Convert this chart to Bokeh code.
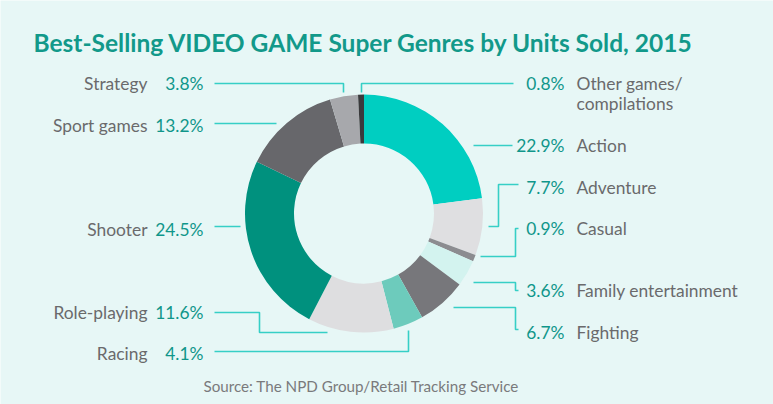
import math
from bokeh.plotting import figure
from bokeh.models import Range1d, ColumnDataSource
from bokeh.core.properties import value
from bokeh.embed import file_html
from bokeh.resources import INLINE

# ---- data ----
categories = ["Action", "Adventure", "Casual", "Family entertainment", "Fighting",
              "Racing", "Role-playing", "Shooter", "Sport games", "Strategy",
              "Other games/compilations"]
shares = [22.9, 7.7, 0.9, 3.6, 6.7, 4.1, 11.6, 24.5, 13.2, 3.8, 0.8]
pct_labels = ["22.9%", "7.7%", "0.9%", "3.6%", "6.7%", "4.1%", "11.6%", "24.5%",
              "13.2%", "3.8%", "0.8%"]

# ---- styles ----
colors = ["#00CEC1", "#DFDFE1", "#8C8C90", "#D3F3EF", "#77777B", "#6DCBBC",
          "#DEDEE0", "#00917E", "#67676B", "#A7A8AC", "#3A3A3C"]
BG = "#E7F7F6"
LINE = "#36CFC6"
NAME_C = "#6A6A6C"
PCT_C = "#10968A"
FONT = "Lato"
LBL_SIZE = "17.4px"

W, H = 773, 404
IMG_H = 404


def fy(y):
    # image row -> data y
    return IMG_H - y


# layout (image pixel coordinates)
CX, CY = 363.5, 213
R_OUT, R_IN = 119, 70
side = ["r", "r", "r", "r", "r", "l", "l", "l", "l", "l", "r"]
label_y = [145, 187, 228, 290, 332, 353, 312, 229, 125, 83, 83]
leaders = [
    [(473, 145), (512, 145)],
    [(518, 184), (498, 184), (498, 226), (488, 226)],
    [(518, 228), (515, 228), (515, 256), (480, 256)],
    [(473, 282), (515, 282), (515, 290), (518, 290)],
    [(453, 307), (515, 307), (515, 329), (518, 329)],
    [(214, 351), (408, 351), (408, 330)],
    [(214, 312), (259, 312), (259, 332), (327, 332)],
    [(214, 226), (240, 226)],
    [(214, 123), (276, 123)],
    [(214, 83), (343, 83), (343, 92)],
    [(361, 92), (361, 83), (513, 83)],
]

p = figure(width=W, height=H, output_backend="svg", toolbar_location=None,
           x_range=Range1d(0, W), y_range=Range1d(IMG_H - H, IMG_H),
           min_border=0, background_fill_color=BG, border_fill_color=BG)
p.axis.visible = False
p.grid.visible = False
p.outline_line_color = None

# donut
total = sum(shares)
starts, ends = [], []
cum = 0.0
for s in shares:
    starts.append(math.pi / 2 - 2 * math.pi * cum / total)
    cum += s
    ends.append(math.pi / 2 - 2 * math.pi * cum / total)

src = ColumnDataSource(dict(cat=categories, share=shares, start=starts, end=ends, color=colors))
p.annular_wedge(x=CX, y=fy(CY), inner_radius=R_IN, outer_radius=R_OUT,
                start_angle="start", end_angle="end", direction="clock",
                fill_color="color", line_color=None, source=src)

# leader lines
p.multi_line(xs=[[pt[0] for pt in l] for l in leaders],
             ys=[[fy(pt[1]) for pt in l] for l in leaders],
             line_color=LINE, line_width=1.6)

# labels
for cat, pct, sd, ly in zip(categories, pct_labels, side, label_y):
    if sd == "l":
        p.text(x=[203], y=[fy(ly)], text=[pct], text_align="right", text_baseline="middle",
               text_font=value(FONT), text_font_size=LBL_SIZE, text_color=PCT_C)
        p.text(x=[147], y=[fy(ly)], text=[cat], text_align="right", text_baseline="middle",
               text_font=value(FONT), text_font_size=LBL_SIZE, text_color=NAME_C)
    else:
        p.text(x=[564], y=[fy(ly)], text=[pct], text_align="right", text_baseline="middle",
               text_font=value(FONT), text_font_size=LBL_SIZE, text_color=PCT_C)
        if "/" in cat:
            a, b = cat.split("/", 1)
            parts = [a + "/", b]
        else:
            parts = [cat]
        for i, part in enumerate(parts):
            p.text(x=[576], y=[fy(ly + 20 * i)], text=[part], text_align="left",
                   text_baseline="middle", text_font=value(FONT), text_font_size=LBL_SIZE,
                   text_color=NAME_C)

# title and source
p.text(x=[33], y=[fy(42)], text=["Best-Selling VIDEO GAME Super Genres by Units Sold, 2015"],
       text_align="left", text_baseline="middle", text_font=value(FONT),
       text_font_size="24.5px", text_font_style="bold", text_color="#12998A")
p.text(x=[203], y=[fy(385)], text=["Source: The NPD Group/Retail Tracking Service"],
       text_align="left", text_baseline="middle", text_font=value(FONT),
       text_font_size="15.2px", text_color="#7A7A7C")

open("out.html", "w").write(file_html(p, INLINE))
